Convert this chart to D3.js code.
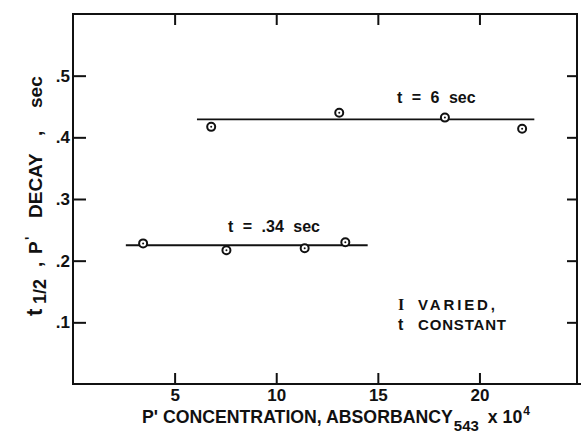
<!DOCTYPE html>
<html>
<head>
<meta charset="utf-8">
<script src="https://cdn.jsdelivr.net/npm/d3@7"></script>
<style>
  html, body { margin: 0; padding: 0; background: #fff; }
  svg { display: block; }
  text { font-family: "Liberation Sans", Arial, sans-serif; fill: #111; font-weight: bold; }
</style>
</head>
<body>
<svg id="chart" width="581" height="433"></svg>
<script>
// ---- data ----
const seriesNames = ["t = 6 sec", "t = .34 sec"];
const conc6 = [6.8, 13.1, 18.3, 22.1];
const decay6 = [0.417, 0.440, 0.432, 0.414];
const fit6X = [6.1, 22.7];
const fit6Y = [0.429, 0.429];
const conc034 = [3.45, 7.55, 11.4, 13.4];
const decay034 = [0.228, 0.217, 0.220, 0.230];
const fit034X = [2.6, 14.5];
const fit034Y = [0.225, 0.225];
const xTicks = [5, 10, 15, 20];
const xTickLabels = ["5", "10", "15", "20"];
const yTicks = [0.1, 0.2, 0.3, 0.4, 0.5];
const yTickLabels = [".1", ".2", ".3", ".4", ".5"];
const legendLines = [["I", "VARIED,"], ["t", "CONSTANT"]];

const svg = d3.select("#chart");
const L = 73, R = 577, T = 14, B = 384;
const x = d3.scaleLinear().domain([0, 24.8]).range([L, R]);
const y = d3.scaleLinear().domain([0, 0.6]).range([B, T]);
const ink = "#111";
const FONT = "Liberation Sans, Arial, sans-serif";

// frame
svg.append("rect").attr("x", L).attr("y", T).attr("width", R - L).attr("height", B - T)
  .attr("fill", "none").attr("stroke", ink).attr("stroke-width", 2);
svg.append("line").attr("x1", R).attr("x2", 581).attr("y1", B).attr("y2", B)
  .attr("stroke", ink).attr("stroke-width", 2);

// bottom axis (ticks inward)
const xb = svg.append("g").attr("transform", `translate(0,${B})`)
  .call(d3.axisBottom(x).tickValues(xTicks).tickSize(-11).tickPadding(17)
    .tickFormat((d, i) => xTickLabels[i]));
xb.select(".domain").remove();
xb.selectAll(".tick line").attr("stroke", ink).attr("stroke-width", 2);
xb.selectAll(".tick text").attr("font-size", 17).attr("dy", "0.71em").attr("y", 5)
  .style("font-family", FONT).style("font-weight", "bold").attr("fill", ink);

// top axis ticks
const xt = svg.append("g").attr("transform", `translate(0,${T})`)
  .call(d3.axisTop(x).tickValues(xTicks).tickSize(-11).tickFormat(""));
xt.select(".domain").remove();
xt.selectAll(".tick line").attr("stroke", ink).attr("stroke-width", 2);

// left axis
const yl = svg.append("g").attr("transform", `translate(${L},0)`)
  .call(d3.axisLeft(y).tickValues(yTicks).tickSize(-13).tickPadding(4)
    .tickFormat((d, i) => yTickLabels[i]));
yl.select(".domain").remove();
yl.selectAll(".tick line").attr("stroke", ink).attr("stroke-width", 2);
yl.selectAll(".tick text").attr("font-size", 17).attr("x", -3)
  .style("font-family", FONT).style("font-weight", "bold").attr("fill", ink);

// right axis ticks
const yr = svg.append("g").attr("transform", `translate(${R},0)`)
  .call(d3.axisRight(y).tickValues(yTicks).tickSize(-10).tickFormat(""));
yr.select(".domain").remove();
yr.selectAll(".tick line").attr("stroke", ink).attr("stroke-width", 2);

// fitted lines
const lineGen = d3.line().x(d => x(d[0])).y(d => y(d[1]));
[[fit6X, fit6Y], [fit034X, fit034Y]].forEach(([xs, ys]) => {
  svg.append("path").datum(xs.map((v, i) => [v, ys[i]]))
    .attr("d", lineGen).attr("fill", "none").attr("stroke", ink).attr("stroke-width", 1.8);
});

// points
function drawPoints(xs, ys) {
  const pts = xs.map((v, i) => [v, ys[i]]);
  const g = svg.append("g");
  g.selectAll("circle.o").data(pts).join("circle").attr("class", "o")
    .attr("cx", d => x(d[0])).attr("cy", d => y(d[1])).attr("r", 4)
    .attr("fill", "#fff").attr("stroke", ink).attr("stroke-width", 2);
  g.selectAll("circle.c").data(pts).join("circle").attr("class", "c")
    .attr("cx", d => x(d[0])).attr("cy", d => y(d[1])).attr("r", 1)
    .attr("fill", ink);
}
drawPoints(conc6, decay6);
drawPoints(conc034, decay034);

// series annotations
svg.append("text").attr("x", 397).attr("y", 103).attr("font-size", 16)
  .attr("word-spacing", 5).text(seriesNames[0]);
svg.append("text").attr("x", 228).attr("y", 232).attr("font-size", 16)
  .attr("word-spacing", 5).text(seriesNames[1]);

// legend note
const legendWidths = [77, 88];
legendLines.forEach((ln, i) => {
  const yy = 310 + i * 20;
  svg.append("text").attr("x", 398).attr("y", yy).attr("font-size", 16)
    .style("font-family", i === 0 ? "Liberation Serif, serif" : FONT)
    .text(ln[0]);
  svg.append("text").attr("x", 418).attr("y", yy).attr("font-size", 15)
    .attr("textLength", legendWidths[i]).attr("lengthAdjust", "spacing").text(ln[1]);
});

// x-axis label
const xl = svg.append("text").attr("x", 142).attr("y", 423).attr("font-size", 17.7);
xl.append("tspan").text("P' CONCENTRATION, ABSORBANCY");
xl.append("tspan").attr("font-size", 15).attr("dy", 8).attr("dx", 1).text("543");
xl.append("tspan").attr("dy", -8).attr("dx", 9).text("x 10");
xl.append("tspan").attr("font-size", 12).attr("dy", -8).attr("dx", 1).text("4");

// y-axis label (rotated; pieces placed along the axis)
const ylab = svg.append("text").attr("transform", "translate(42,320) rotate(-90)")
  .attr("font-size", 19);
ylab.append("tspan").attr("x", 4).attr("y", 0).attr("font-size", 22).text("t");
ylab.append("tspan").attr("x", 16).attr("y", 4).attr("font-size", 18).text("1/2");
ylab.append("tspan").attr("x", 53).attr("y", 0).text(",");
ylab.append("tspan").attr("x", 66).attr("y", 0).text("P");
ylab.append("tspan").attr("x", 80).attr("y", -7).attr("font-size", 14).text("'");
ylab.append("tspan").attr("x", 102).attr("y", 0).text("DECAY");
ylab.append("tspan").attr("x", 184).attr("y", 0).text(",");
ylab.append("tspan").attr("x", 212).attr("y", 0).text("sec");
</script>
</body>
</html>
